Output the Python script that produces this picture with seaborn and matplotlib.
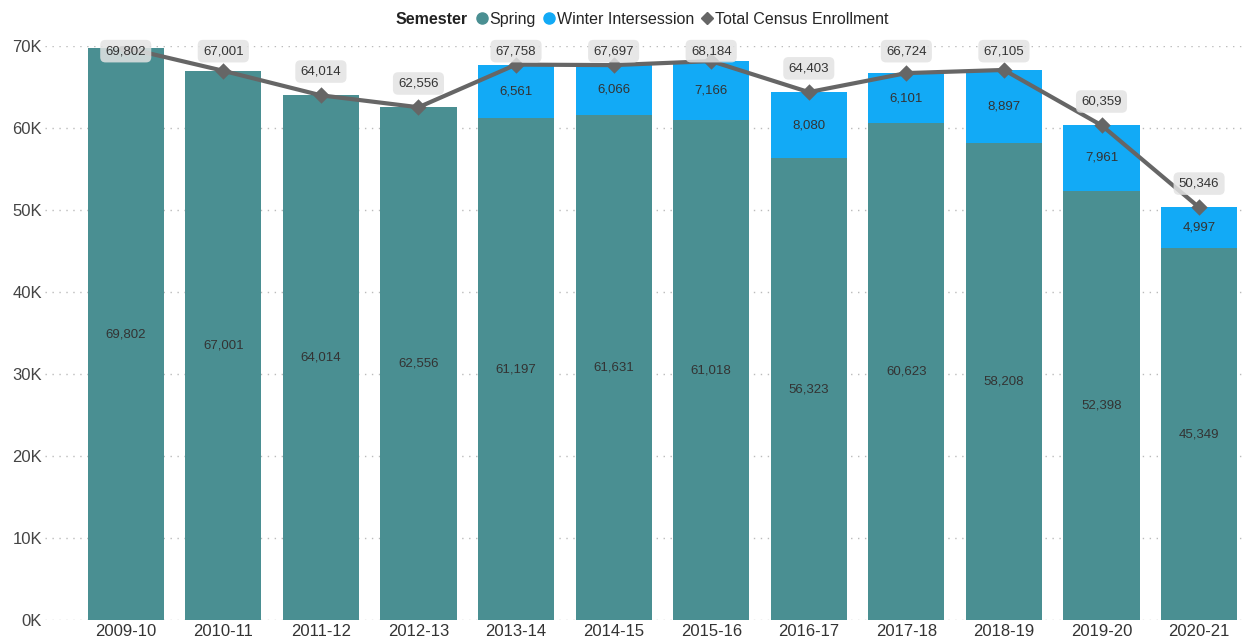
import numpy as np
import pandas as pd
import matplotlib
matplotlib.use("Agg")
import matplotlib.pyplot as plt
from matplotlib.lines import Line2D
import seaborn as sns

years = ["2009-10", "2010-11", "2011-12", "2012-13", "2013-14", "2014-15",
         "2015-16", "2016-17", "2017-18", "2018-19", "2019-20", "2020-21"]
spring = [69802, 67001, 64014, 62556, 61197, 61631, 61018, 56323, 60623, 58208, 52398, 45349]
winter = [0, 0, 0, 0, 6561, 6066, 7166, 8080, 6101, 8897, 7961, 4997]
total = [69802, 67001, 64014, 62556, 67758, 67697, 68184, 64403, 66724, 67105, 60359, 50346]

spring_color = "#4A8F92"
winter_color = "#12AAF6"
line_color = "#666666"

df = pd.DataFrame({"year": years, "spring": spring, "winter": winter, "total": total})
df["stack"] = df["spring"] + df["winter"]

sns.set_style("white")
plt.rcParams["font.family"] = ["Liberation Sans", "DejaVu Sans"]

fig = plt.figure(figsize=(12.43, 6.42), dpi=100)
ax = fig.add_axes([0.036, 0.034, 0.964, 0.894])

# stacked bars: full stack in winter colour, spring drawn over it
sns.barplot(data=df, x="year", y="stack", color=winter_color, width=0.78,
            saturation=1, linewidth=0, ax=ax, zorder=2)
sns.barplot(data=df, x="year", y="spring", color=spring_color, width=0.78,
            saturation=1, linewidth=0, ax=ax, zorder=3)
sns.pointplot(data=df, x="year", y="total", color=line_color, markers="D",
              markersize=6, linewidth=3, ax=ax, zorder=5)

ax.set_xlim(-0.83, 11.45)
ax.set_ylim(0, 70000)
ax.set_yticks(np.arange(0, 70001, 10000))
ax.set_yticklabels([f"{int(v/1000)}K" for v in np.arange(0, 70001, 10000)],
                   fontsize=12, color="#444444")
ax.tick_params(axis="x", labelsize=12, labelcolor="#333333", length=0, pad=3)
ax.tick_params(axis="y", length=0, pad=2)
ax.set_xlabel("")
ax.set_ylabel("")
ax.yaxis.grid(True, color="#BBBBBB", linestyle=(0, (1, 4)), linewidth=1)
ax.set_axisbelow(True)
for s in ax.spines.values():
    s.set_visible(False)

# labels inside segments
for i in range(len(years)):
    ax.text(i, spring[i] / 2, f"{spring[i]:,}", ha="center", va="center",
            fontsize=9.5, color="#333333", zorder=6)
    if winter[i] > 0:
        ax.text(i, spring[i] + winter[i] / 2, f"{winter[i]:,}", ha="center",
                va="center", fontsize=9.5, color="#333333", zorder=6)
    ty = min(total[i] + 2900, 69400)
    ax.text(i, ty, f"{total[i]:,}", ha="center", va="center", fontsize=9.5,
            color="#333333", zorder=7, clip_on=False,
            bbox=dict(boxstyle="round,pad=0.4,rounding_size=0.4",
                      fc="#E3E3E3", ec="none", alpha=0.85))

# legend row
fig.text(0.318, 0.97, "Semester", fontsize=11.5, fontweight="bold",
         color="#222222", ha="left", va="center")
handles = [
    Line2D([], [], marker="o", color=spring_color, linestyle="none", markersize=8),
    Line2D([], [], marker="o", color=winter_color, linestyle="none", markersize=8),
    Line2D([], [], marker="D", color=line_color, linestyle="none", markersize=6),
]
fig.legend(handles, ["Spring", "Winter Intersession", "Total Census Enrollment"],
           loc="center left", bbox_to_anchor=(0.381, 0.97), ncol=3, frameon=False,
           fontsize=11.5, handletextpad=0.0, columnspacing=0.3, handlelength=1.0,
           borderpad=0, borderaxespad=0)

fig.savefig("out.png", dpi=100)
